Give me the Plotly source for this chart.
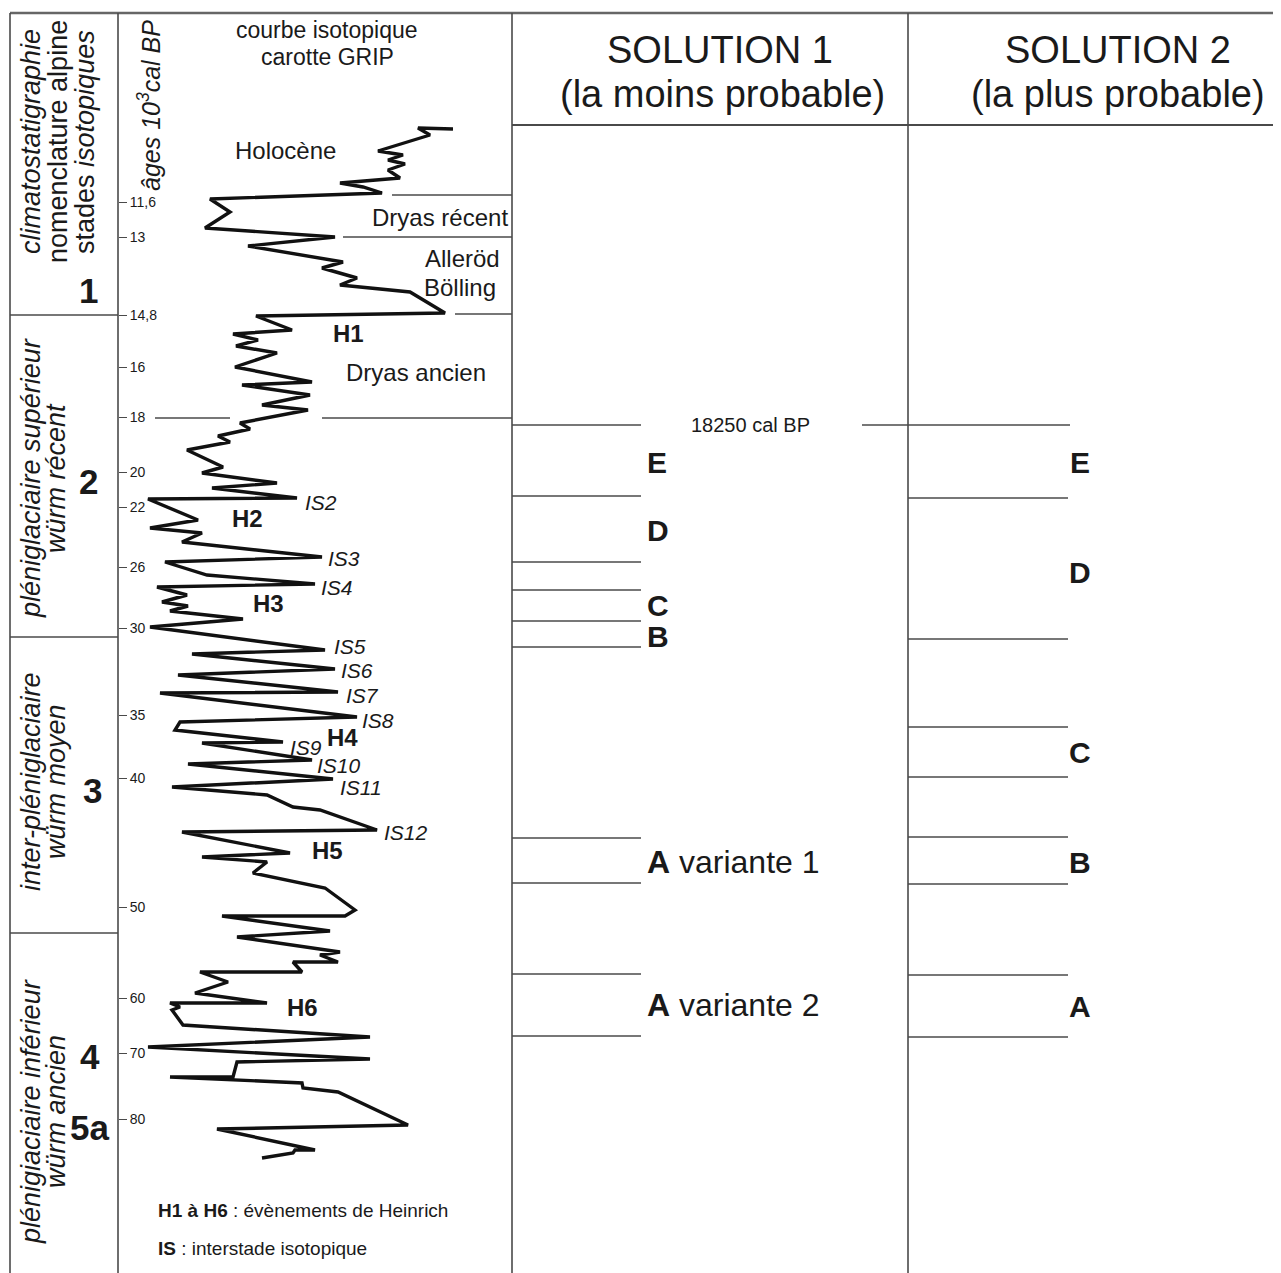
import plotly.graph_objects as go

# ------------------------------------------------------------
# DATA (vertical positions are rows on the drawn age scale)
# ------------------------------------------------------------
tick_rows = [202, 237, 315, 367, 417, 472, 507, 567, 628, 715, 778, 907, 998, 1053, 1119]
tick_labels = ["11,6", "13", "14,8", "16", "18", "20", "22", "26", "30", "35", "40", "50", "60", "70", "80"]

# GRIP isotope curve (x: isotopic value on drawing scale, y: age row)
curve_x = [453, 418, 430, 378, 403, 388, 405, 388, 400, 340, 363, 382, 210, 230, 205, 335, 248,
           343, 322, 357, 340, 410, 445, 256, 292, 233, 258, 236, 277, 235, 312, 242, 310, 262,
           308, 240, 250, 218, 230, 187, 223, 202, 277, 212, 297, 148, 198, 150, 202, 182, 322,
           165, 207, 315, 157, 187, 162, 188, 170, 243, 150, 325, 192, 335, 178, 338, 160, 357,
           180, 175, 283, 202, 312, 188, 333, 172, 267, 293, 320, 377, 182, 290, 202, 267, 253,
           325, 355, 345, 222, 330, 237, 340, 320, 338, 293, 302, 200, 228, 195, 267, 170, 180,
           172, 183, 370, 148, 370, 237, 233, 170, 302, 303, 338, 408, 217, 315, 295, 293, 262]
curve_y = [129, 128, 135, 151, 155, 160, 164, 170, 178, 183, 187, 193, 199, 212, 228, 237, 246,
           262, 268, 278, 285, 292, 313, 316, 330, 334, 340, 346, 353, 367, 382, 385, 395, 405,
           410, 423, 429, 436, 442, 450, 467, 473, 483, 488, 498, 499, 520, 528, 533, 542, 557,
           562, 575, 584, 587, 595, 602, 606, 611, 619, 627, 650, 654, 669, 675, 692, 693, 717,
           722, 730, 742, 743, 760, 764, 779, 787, 795, 807, 810, 830, 832, 853, 857, 862, 873,
           888, 910, 916, 916, 931, 937, 952, 955, 962, 962, 972, 972, 982, 993, 1003, 1003, 1007,
           1010, 1025, 1037, 1047, 1059, 1062, 1077, 1077, 1083, 1088, 1092, 1125, 1129, 1150, 1150, 1153, 1158]

# curve annotations
event_names = ["H1", "H2", "H3", "H4", "H5", "H6"]
event_x = [348, 247, 268, 342, 327, 302]
event_y = [333, 518, 603, 737, 850, 1007]
is_names = ["IS2", "IS3", "IS4", "IS5", "IS6", "IS7", "IS8", "IS9", "IS10", "IS11", "IS12"]
is_x = [321, 344, 337, 350, 357, 362, 378, 306, 339, 361, 406]
is_y = [502, 558, 587, 646, 670, 695, 720, 747, 765, 787, 832]
period_names = ["Holocène", "Dryas récent", "Alleröd", "Bölling", "Dryas ancien"]
period_x = [285, 440, 462, 460, 416]
period_y = [150, 217, 258, 287, 372]

# climatostratigraphy (column 1)
stage_names = ["1", "2", "3", "4", "5a"]
stage_x = [88, 88, 92, 90, 89]
stage_y = [290, 481, 790, 1056, 1127]
stage_bounds = [315, 637, 933]
phase_line1 = ["<i>pléniglaciaire supérieur</i>", "<i>inter-pléniglaciaire</i>", "<i>plénigiaciaire inférieur</i>"]
phase_line2 = ["<i>würm récent</i>", "<i>würm moyen</i>", "<i>würm ancien</i>"]
phase_y = [478, 782, 1112]

# period boundaries inside the curve column: (row, x start)
period_bounds = [195, 237, 314, 418]
period_bounds_x0 = [392, 343, 455, 322]

# solutions
sol1_bounds = [496, 562, 590, 621, 647, 838, 883, 974, 1036]
sol1_labels = ["<b>E</b>", "<b>D</b>", "<b>C</b>", "<b>B</b>", "<b>A</b> variante 1", "<b>A</b> variante 2"]
sol1_rows = [462, 530, 605, 636, 862, 1005]
sol2_bounds = [498, 639, 727, 777, 837, 884, 975, 1037]
sol2_labels = ["<b>E</b>", "<b>D</b>", "<b>C</b>", "<b>B</b>", "<b>A</b>"]
sol2_rows = [462, 572, 752, 862, 1006]
limit_row = 425

W, H = 1281, 1273
OFF = 8  # page body margin: shift axes so drawing coordinates match the screen
FONT = "Arial, Liberation Sans, sans-serif"
INK = "#1a1a1a"
RULE = "#4a4a4a"

fig = go.Figure()
fig.add_trace(go.Scatter(
    x=curve_x, y=curve_y, mode="lines",
    line=dict(color="#111111", width=3.4), hoverinfo="skip", showlegend=False,
))


def hline(y, x0, x1, width=1.5, color=RULE):
    fig.add_shape(type="line", x0=x0, x1=x1, y0=y, y1=y, xref="x", yref="y",
                  line=dict(color=color, width=width))


def vline(x, y0, y1, width=1.5, color=RULE):
    fig.add_shape(type="line", x0=x, x1=x, y0=y0, y1=y1, xref="x", yref="y",
                  line=dict(color=color, width=width))


def text(x, y, s, size, angle=0, xanchor="center", bold=False):
    fig.add_annotation(x=x, y=y, text=f"<b>{s}</b>" if bold else s, showarrow=False,
                       textangle=angle, xanchor=xanchor, yanchor="middle",
                       font=dict(family=FONT, size=size, color=INK))


# frame
hline(13, 10, W, width=2.5, color="#666666")
for xv in [10, 118, 512, 908]:
    vline(xv, 13, H, width=1.6)
hline(125, 512, W, width=2)
for yv in stage_bounds:
    hline(yv, 10, 118, width=1.6)
for yv, x0 in zip(period_bounds, period_bounds_x0):
    hline(yv, x0, 512)
hline(418, 155, 230)

# solution boundaries
hline(limit_row, 512, 641)
hline(limit_row, 862, 1070)
for yv in sol1_bounds:
    hline(yv, 512, 641)
for yv in sol2_bounds:
    hline(yv, 908, 1068)

# headers
text(31, 142, "<i>climatostatigraphie</i>", 27, angle=-90)
text(58, 142, "nomenclature alpine", 27, angle=-90)
text(85, 142, "stades <i>isotopiques</i>", 27, angle=-90)
text(149, 106, "<i>âges 10<sup>3</sup>cal BP</i>", 25, angle=-90)
text(327, 30, "courbe isotopique", 23)
text(327, 57, "carotte GRIP", 23)
text(720, 50, "SOLUTION 1", 38)
text(722, 94, "(la moins probable)", 38)
text(1118, 50, "SOLUTION 2", 38)
text(1118, 94, "(la plus probable)", 38)

for s, x, y in zip(stage_names, stage_x, stage_y):
    text(x, y, s, 35, bold=True)
for a, b, y in zip(phase_line1, phase_line2, phase_y):
    text(31, y, a, 27, angle=-90)
    text(56, y, b, 27, angle=-90)

for s, x, y in zip(period_names, period_x, period_y):
    text(x, y, s, 24)
for s, x, y in zip(event_names, event_x, event_y):
    text(x, y, s, 24, bold=True)
for s, x, y in zip(is_names, is_x, is_y):
    text(x, y, f"<i>{s}</i>", 21)

text(750, limit_row, "18250 cal BP", 20)
for s, y in zip(sol1_labels, sol1_rows):
    text(645, y, s, 32 if "variante" in s else 30, xanchor="left")
for s, y in zip(sol2_labels, sol2_rows):
    text(1080, y, s, 30)

text(156, 1210, "<b>H1 à H6</b> : évènements de Heinrich", 19, xanchor="left")
text(156, 1248, "<b>IS</b> : interstade isotopique", 19, xanchor="left")

fig.update_layout(
    width=W, height=H,
    margin=dict(l=0, r=0, t=0, b=0),
    paper_bgcolor="white", plot_bgcolor="white",
    showlegend=False,
    xaxis=dict(range=[OFF, W + OFF], visible=False, fixedrange=True),
    yaxis=dict(
        range=[H + OFF, OFF], anchor="free", position=(118 - OFF) / W, side="right",
        tickmode="array", tickvals=tick_rows, ticktext=tick_labels,
        ticks="outside", ticklen=8, tickwidth=1.2, tickcolor=RULE,
        tickfont=dict(family=FONT, size=14, color=INK),
        showgrid=False, zeroline=False, showline=False, fixedrange=True,
    ),
)

fig.write_html("out.html")
